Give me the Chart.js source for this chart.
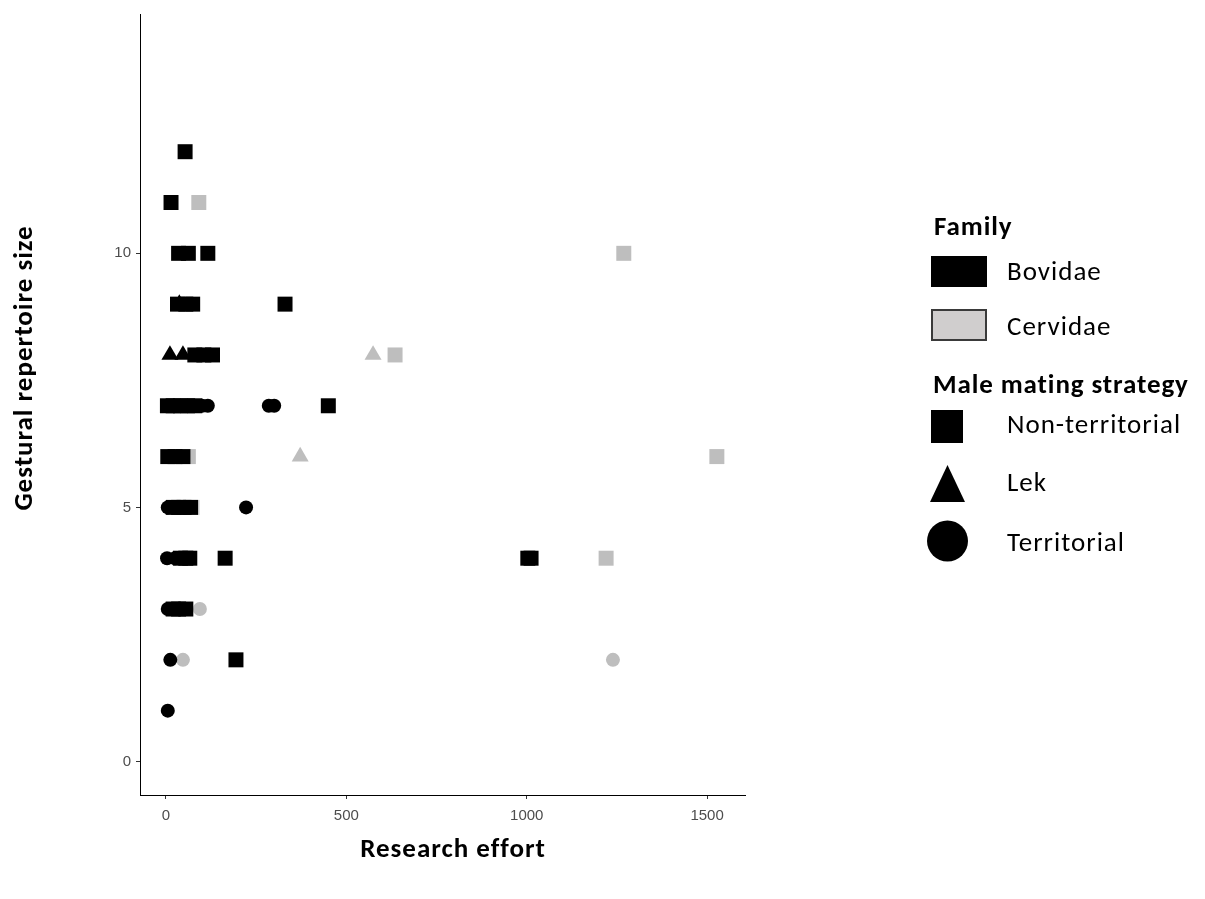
<!DOCTYPE html>
<html>
<head>
<meta charset="utf-8">
<script src="https://cdn.jsdelivr.net/npm/chart.js@4/dist/chart.umd.min.js"></script>
<style>
html,body{margin:0;padding:0;background:#fff;}
#wrap{position:relative;width:1205px;height:899px;}
</style>
</head>
<body>
<div id="wrap"><canvas id="c" width="1205" height="899"></canvas></div>
<script>
// ---- Data (Research effort, Gestural repertoire size) ----
// Bovidae, non-territorial (black squares)
const bovNonTerrX = [53, 14, 35, 62, 116, 32, 55, 74, 330, 80, 105, 129, 4, 20, 40, 60, 80, 450, 5, 25, 47, 20, 35, 50, 68, 40, 55, 66, 164, 1003, 1012, 20, 35, 55, 194];
const bovNonTerrY = [12, 11, 10, 10, 10, 9, 9, 9, 9, 8, 8, 8, 7, 7, 7, 7, 7, 7, 6, 6, 6, 5, 5, 5, 5, 4, 4, 4, 4, 4, 4, 3, 3, 3, 2];
// Bovidae, lek (black triangles)
const bovLekX = [37, 11, 47];
const bovLekY = [9, 8, 8];
// Bovidae, territorial (black circles)
const bovTerrX = [100, 116, 285, 300, 5, 222, 3, 25, 5, 12, 5];
const bovTerrY = [7, 7, 7, 7, 5, 5, 4, 4, 3, 2, 1];
// Cervidae, non-territorial (grey squares)
const cerNonTerrX = [91, 1269, 635, 62, 1527, 72, 1220];
const cerNonTerrY = [11, 10, 8, 6, 6, 5, 4];
// Cervidae, lek (grey triangles)
const cerLekX = [574, 372];
const cerLekY = [8, 6];
// Cervidae, territorial (grey circles)
const cerTerrX = [40, 94, 47, 1239];
const cerTerrY = [5, 3, 2, 2];

const xTicks = [0, 500, 1000, 1500];
const yTicks = [0, 5, 10];

const familyLabels = ['Bovidae', 'Cervidae'];
const strategyLabels = ['Non-territorial', 'Lek', 'Territorial'];

const BLACK = '#000000';
const GREY = '#bebebe';

function pts(xs, ys) { return xs.map((x, i) => ({x: x, y: ys[i]})); }

function ds(label, xs, ys, color, style, radius, order) {
  return {
    label: label,
    data: pts(xs, ys),
    backgroundColor: color,
    borderColor: color,
    borderWidth: 0,
    pointStyle: style,
    pointRadius: radius,
    pointHoverRadius: radius,
    order: order
  };
}

const SQ_R = 10.6, TRI_R = 9.8, CIR_R = 7;

const datasets = [
  ds('Cervidae Non-territorial', cerNonTerrX, cerNonTerrY, GREY, 'rect', SQ_R, 6),
  ds('Cervidae Lek', cerLekX, cerLekY, GREY, 'triangle', TRI_R, 5),
  ds('Cervidae Territorial', cerTerrX, cerTerrY, GREY, 'circle', CIR_R, 4),
  ds('Bovidae Non-territorial', bovNonTerrX, bovNonTerrY, BLACK, 'rect', SQ_R, 3),
  ds('Bovidae Territorial', bovTerrX, bovTerrY, BLACK, 'circle', CIR_R, 2),
  ds('Bovidae Lek', bovLekX, bovLekY, BLACK, 'triangle', TRI_R, 1)
];

const FONT_FAM = 'Carlito, Calibri, Lato, "Open Sans", sans-serif';

const decor = {
  id: 'decor',
  afterDraw(chart) {
    const ctx = chart.ctx;
    ctx.save();
    ctx.fillStyle = '#000';
    // Axis titles
    ctx.font = 'bold 27px ' + FONT_FAM;
    ctx.letterSpacing = '1px';
    ctx.textAlign = 'center';
    ctx.textBaseline = 'middle';
    ctx.fillText('Research effort', 453, 850);
    ctx.save();
    ctx.translate(25, 368);
    ctx.rotate(-Math.PI / 2);
    ctx.fillText('Gestural repertoire size', 0, 0);
    ctx.restore();

    // Legend
    ctx.textAlign = 'left';
    ctx.font = 'bold 27px ' + FONT_FAM;
    ctx.letterSpacing = '0.9px';
    ctx.fillText('Family', 934, 228);
    ctx.fillText('Male mating strategy', 933, 386);

    ctx.font = '27px ' + FONT_FAM;
    ctx.letterSpacing = '1px';
    // Bovidae
    ctx.fillStyle = '#000';
    ctx.fillRect(931, 256, 56, 31);
    ctx.fillText(familyLabels[0], 1007, 273);
    // Cervidae
    ctx.fillStyle = '#d0cece';
    ctx.fillRect(932, 310, 54, 30);
    ctx.strokeStyle = '#3a3a3a';
    ctx.lineWidth = 2;
    ctx.strokeRect(932, 310, 54, 30);
    ctx.fillStyle = '#000';
    ctx.fillText(familyLabels[1], 1007, 328);

    // Non-territorial square
    ctx.fillRect(931, 410, 32, 33);
    ctx.fillText(strategyLabels[0], 1007, 426);
    // Lek triangle
    ctx.beginPath();
    ctx.moveTo(947.5, 465);
    ctx.lineTo(965, 502);
    ctx.lineTo(930, 502);
    ctx.closePath();
    ctx.fill();
    ctx.fillText(strategyLabels[1], 1007, 484);
    // Territorial circle
    ctx.beginPath();
    ctx.arc(947.5, 541, 20.5, 0, Math.PI * 2);
    ctx.fill();
    ctx.fillText(strategyLabels[2], 1007, 544);
    ctx.restore();
  }
};

new Chart(document.getElementById('c'), {
  type: 'scatter',
  data: { datasets: datasets },
  options: {
    responsive: false,
    animation: false,
    devicePixelRatio: 1,
    layout: { padding: { left: 0, top: 8, right: 460, bottom: 0 } },
    plugins: {
      legend: { display: false },
      tooltip: { enabled: false },
      title: { display: false }
    },
    scales: {
      x: {
        type: 'linear',
        min: -72,
        max: 1605,
        afterFit: (s) => { s.height = 104; },
        afterBuildTicks: (s) => { s.ticks = xTicks.map(v => ({value: v})); },
        grid: { drawOnChartArea: false, drawTicks: true, tickLength: 4, color: '#333333' },
        border: { display: true, color: '#000000', width: 1 },
        ticks: {
          color: '#4d4d4d',
          padding: 8,
          font: { family: '"Liberation Sans", Arial, sans-serif', size: 15 },
          callback: (v) => String(v)
        },
        title: { display: false }
      },
      y: {
        type: 'linear',
        min: -0.66,
        max: 14.71,
        afterFit: (s) => { s.width = 140; },
        afterBuildTicks: (s) => { s.ticks = yTicks.map(v => ({value: v})); },
        grid: { drawOnChartArea: false, drawTicks: true, tickLength: 4, color: '#333333' },
        border: { display: true, color: '#000000', width: 1 },
        ticks: {
          color: '#4d4d4d',
          padding: 5,
          font: { family: '"Liberation Sans", Arial, sans-serif', size: 15 },
          callback: (v) => String(v)
        },
        title: { display: false }
      }
    }
  },
  plugins: [decor]
});
</script>
</body>
</html>
